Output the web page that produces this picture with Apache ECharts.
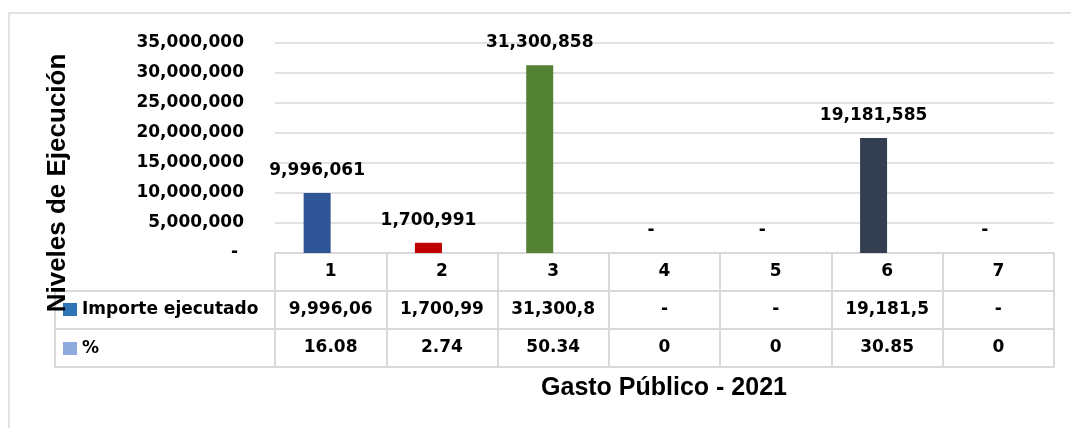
<!DOCTYPE html>
<html>
<head>
<meta charset="utf-8">
<script src="https://cdn.jsdelivr.net/npm/echarts@6/dist/echarts.min.js"></script>
<style>
html,body{margin:0;padding:0;background:#fff;}
#chart{width:1071px;height:428px;}
</style>
</head>
<body>
<div id="chart"></div>
<script>
// ---- data ----
const categories = ['1', '2', '3', '4', '5', '6', '7'];
const importe = [9996061, 1700991, 31300858, 0, 0, 19181585, 0];
const percent = [16.08, 2.74, 50.34, 0, 0, 30.85, 0];
const seriesNames = ['Importe ejecutado', '%'];
const barColors = ['#2F5597', '#C00000', '#548235', '#2F5597', '#2F5597', '#333F50', '#2F5597'];
const yTitle = 'Niveles de Ejecución';
const xTitle = 'Gasto Público - 2021';

// ---- helpers ----
const FONT = '"DejaVu Sans", sans-serif';
const TITLE_FONT = '"Liberation Sans", Arial, sans-serif';
const GRID_COLOR = '#D9D9D9';
function fmt(v) { return v.toLocaleString('en-US'); }
function fmtCell(v) { return v === 0 ? '-' : fmt(v).slice(0, 8); }
const labelText = { fontFamily: FONT, fontWeight: 'bold', fontSize: 17, color: '#000' };

function tableAxis(offset, formatter, showLabels, showTicks) {
  return {
    type: 'category',
    data: categories,
    position: 'bottom',
    offset: offset,
    boundaryGap: true,
    axisLine: { show: true, lineStyle: { color: GRID_COLOR, width: 2 } },
    axisTick: { show: showTicks, length: 38, lineStyle: { color: GRID_COLOR, width: 2 } },
    axisLabel: Object.assign({
      show: showLabels, interval: 0, margin: 19, verticalAlign: 'middle', formatter: formatter
    }, labelText),
    splitLine: { show: false }
  };
}

const chart = echarts.init(document.getElementById('chart'), null, { renderer: 'canvas' });
chart.setOption({
  animation: false,
  backgroundColor: '#fff',
  grid: { left: 275, right: 17, top: 43, height: 210, containLabel: false },
  legend: {
    data: seriesNames,
    orient: 'vertical',
    left: 63,
    top: 301,
    padding: 0,
    itemWidth: 14,
    itemHeight: 13,
    itemGap: 22,
    icon: 'rect',
    selectedMode: false,
    textStyle: labelText
  },
  xAxis: [
    tableAxis(0, (v) => v, true, true),
    tableAxis(38, (v, i) => fmtCell(importe[i]), true, true),
    tableAxis(76, (v, i) => String(percent[i]), true, true),
    tableAxis(114, (v) => v, false, false)
  ],
  yAxis: {
    type: 'value',
    min: 0,
    max: 35000000,
    interval: 5000000,
    axisLine: { show: false },
    axisTick: { show: false },
    axisLabel: Object.assign({
      margin: 31,
      formatter: (v) => v === 0 ? '- ' : fmt(v)
    }, labelText),
    splitLine: { show: true, lineStyle: { color: GRID_COLOR, width: 1.5 } }
  },
  series: [
    {
      name: seriesNames[0],
      type: 'bar',
      xAxisIndex: 0,
      barWidth: 27,
      barGap: '0%',
      itemStyle: { color: '#2E75B6' },
      data: importe.map((v, i) => ({ value: v, itemStyle: { color: barColors[i] } })),
      label: Object.assign({
        show: true,
        position: 'top',
        distance: 14,
        formatter: (p) => p.value === 0 ? '-' : fmt(p.value)
      }, labelText)
    },
    {
      name: seriesNames[1],
      type: 'bar',
      xAxisIndex: 0,
      barWidth: 27,
      barGap: '0%',
      itemStyle: { color: '#8FAADC' },
      data: percent,
      label: { show: false }
    }
  ],
  graphic: [
    {
      type: 'rect', silent: true, z: -1,
      shape: { x: 9, y: 13, width: 1200, height: 600 },
      style: { fill: null, stroke: GRID_COLOR, lineWidth: 1.5 }
    },
    {
      type: 'rect', silent: true,
      shape: { x: 55, y: 291, width: 220, height: 76 },
      style: { fill: null, stroke: GRID_COLOR, lineWidth: 2 }
    },
    {
      type: 'line', silent: true,
      shape: { x1: 55, y1: 329, x2: 275, y2: 329 },
      style: { stroke: GRID_COLOR, lineWidth: 2 }
    },
    {
      type: 'text', silent: true, z: 100,
      x: 58, y: 183, rotation: Math.PI / 2,
      style: {
        text: yTitle, font: 'bold 26px ' + TITLE_FONT, fill: '#000',
        align: 'center', verticalAlign: 'middle', textAlign: 'center', textVerticalAlign: 'middle'
      }
    },
    {
      type: 'text', silent: true, z: 100,
      x: 664, y: 388,
      style: {
        text: xTitle, font: 'bold 25px ' + TITLE_FONT, fill: '#000',
        align: 'center', verticalAlign: 'middle', textAlign: 'center', textVerticalAlign: 'middle'
      }
    }
  ]
});
</script>
</body>
</html>
